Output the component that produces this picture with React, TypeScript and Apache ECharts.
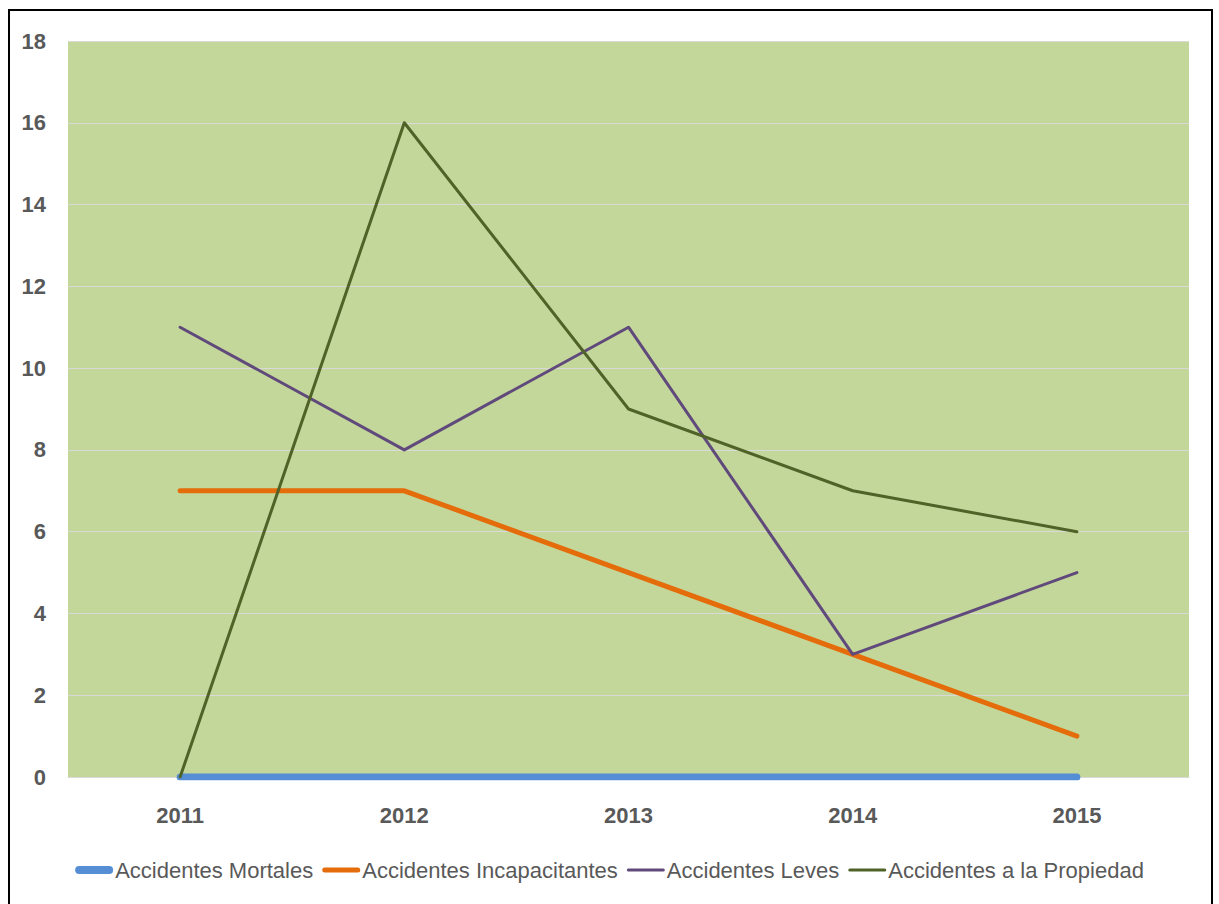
import React, { useEffect, useRef } from "react";
import * as echarts from "echarts";

const categories = ["2011", "2012", "2013", "2014", "2015"];
const mortales = [0, 0, 0, 0, 0];
const incapacitantes = [7, 7, 5, 3, 1];
const leves = [11, 8, 11, 3, 5];
const propiedad = [0, 16, 9, 7, 6];
const seriesNames = [
  "Accidentes Mortales",
  "Accidentes Incapacitantes",
  "Accidentes Leves",
  "Accidentes a la Propiedad",
];

const FONT = '"Liberation Sans Narrow", "Arial Narrow", "Liberation Sans", sans-serif';

function pill(w: number, h: number) {
  const r = h / 2;
  return `path://M${r},0 h${w - h} a${r},${r} 0 0 1 0,${h} h${-(w - h)} a${r},${r} 0 0 1 0,${-h} z`;
}

export default function App() {
  const ref = useRef<HTMLDivElement>(null);
  useEffect(() => {
    document.body.style.margin = "0";
    const chart = echarts.init(ref.current!, null, { renderer: "svg" });
    const colors = ["#558ED5", "#E46C0A", "#604A7B", "#4F6228"];
    const widths = [7, 5, 3, 3];
    const iconH = [8, 5, 3, 3];
    const datasets = [mortales, incapacitantes, leves, propiedad];
    chart.setOption({
      animation: false,
      backgroundColor: "#ffffff",
      graphic: [
        {
          type: "rect",
          shape: { x: 9, y: 10, width: 1203, height: 1000 },
          style: { fill: "none", stroke: "#000000", lineWidth: 2 },
          silent: true,
        },
      ],
      grid: { left: 68, right: 30, top: 41, bottom: 127, show: true, backgroundColor: "#C4D79B", borderWidth: 0 },
      xAxis: {
        type: "category",
        data: categories,
        boundaryGap: true,
        axisLine: { show: true, lineStyle: { color: "#D9D9D9", width: 1 } },
        axisTick: { show: false },
        axisLabel: { color: "#595959", fontFamily: FONT, fontWeight: "bold", fontSize: 22, margin: 27 },
      },
      yAxis: {
        type: "value",
        min: 0,
        max: 18,
        interval: 2,
        axisLine: { show: false },
        axisTick: { show: false },
        splitLine: { lineStyle: { color: "#D9D9D9", width: 1 } },
        axisLabel: { color: "#595959", fontFamily: FONT, fontWeight: "bold", fontSize: 22, margin: 22 },
      },
      legend: {
        bottom: 18,
        left: "center",
        itemWidth: 38,
        itemHeight: 10,
        itemGap: 9,
        textStyle: { color: "#595959", fontFamily: FONT, fontSize: 22, padding: [0, 0, 0, -3] },
        data: seriesNames.map((n, i) => ({
          name: n,
          icon: pill(38, iconH[i]),
          itemStyle: { color: colors[i] },
        })),
      },
      series: datasets.map((d, i) => ({
        name: seriesNames[i],
        type: "line",
        data: d,
        symbol: "none",
        z: 2 + i,
        color: colors[i],
        lineStyle: { color: colors[i], width: widths[i], cap: "round", join: "round" },
      })),
    });
    return () => chart.dispose();
  }, []);
  return <div ref={ref} style={{ width: 1219, height: 904 }} />;
}
